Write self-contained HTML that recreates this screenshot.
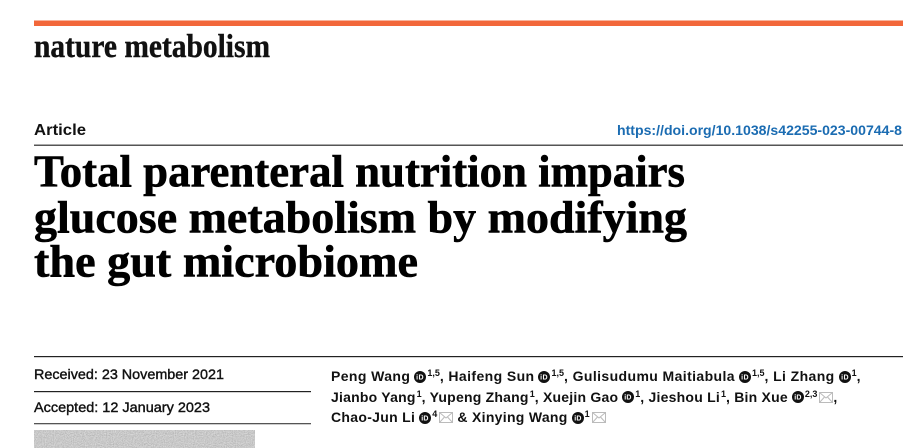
<!DOCTYPE html>
<html>
<head>
<meta charset="utf-8">
<style>
  html,body{margin:0;padding:0;background:#fff;}
  body{width:917px;height:448px;position:relative;overflow:hidden;}
  svg.main{position:absolute;left:0;top:0;}
  .auth{position:absolute;left:331px;font-family:"Liberation Sans",Arial,sans-serif;font-weight:bold;font-size:14px;color:#111;white-space:nowrap;line-height:20px;letter-spacing:0.3px;}
  .id{display:inline-block;width:12px;height:12px;vertical-align:-1.5px;margin-left:4px;}
  .sup{font-size:9px;position:relative;top:-5px;margin-left:1px;letter-spacing:0;}
  .env{display:inline-block;width:14px;height:11px;vertical-align:-1px;margin-left:2px;}
</style>
</head>
<body>
<svg class="main" width="917" height="448" viewBox="0 0 917 448" xmlns="http://www.w3.org/2000/svg">
  <defs>
    <filter id="noise" x="0" y="0" width="100%" height="100%">
      <feTurbulence type="fractalNoise" baseFrequency="0.9" numOctaves="2" seed="3" result="t"/>
      <feColorMatrix type="saturate" values="0" in="t" result="g"/>
      <feComponentTransfer in="g" result="c">
        <feFuncR type="linear" slope="1.2" intercept="0.1"/>
        <feFuncG type="linear" slope="1.2" intercept="0.1"/>
        <feFuncB type="linear" slope="1.2" intercept="0.1"/>
        <feFuncA type="linear" slope="0" intercept="1"/>
      </feComponentTransfer>
    </filter>
  </defs>
  <rect x="34" y="20.5" width="869" height="5.5" fill="#f2673a"/>
  <text x="34" y="57" font-family="Liberation Serif, serif" font-weight="bold" font-size="33" fill="#111" stroke="#111" stroke-width="0.4" textLength="236" lengthAdjust="spacingAndGlyphs">nature metabolism</text>
  <text x="34" y="135" font-family="Liberation Sans, sans-serif" font-weight="bold" font-size="16" fill="#111" textLength="52" lengthAdjust="spacingAndGlyphs">Article</text>
  <text x="617" y="135" font-family="Liberation Sans, sans-serif" font-weight="bold" font-size="14" fill="#1b6cb2" textLength="285" lengthAdjust="spacingAndGlyphs">https://doi.org/10.1038/s42255-023-00744-8</text>
  <rect x="34" y="144.5" width="869" height="1.5" fill="#555"/>
  <g font-family="Liberation Serif, serif" font-weight="bold" font-size="46" fill="#000" stroke="#000" stroke-width="0.6">
    <text x="34" y="186.5" textLength="651" lengthAdjust="spacingAndGlyphs">Total parenteral nutrition impairs</text>
    <text x="34" y="232.5" textLength="653" lengthAdjust="spacingAndGlyphs">glucose metabolism by modifying</text>
    <text x="34" y="276.5" textLength="384" lengthAdjust="spacingAndGlyphs">the gut microbiome</text>
  </g>
  <rect x="34" y="356" width="869" height="1.2" fill="#222"/>
  <text x="34" y="379" font-family="Liberation Sans, sans-serif" font-size="14" fill="#111" stroke="#111" stroke-width="0.4" textLength="190" lengthAdjust="spacingAndGlyphs">Received: 23 November 2021</text>
  <rect x="34" y="391" width="277" height="1.2" fill="#222"/>
  <text x="34" y="412" font-family="Liberation Sans, sans-serif" font-size="14" fill="#111" stroke="#111" stroke-width="0.4" textLength="176" lengthAdjust="spacingAndGlyphs">Accepted: 12 January 2023</text>
  <rect x="34" y="423" width="277" height="1.3" fill="#555"/>
  <rect x="34" y="430" width="221" height="18" fill="#b5b5b5"/>
  <rect x="34" y="430" width="221" height="18" filter="url(#noise)" opacity="0.55"/>
</svg>

<div class="auth" style="top:366px;letter-spacing:0.4px;">Peng Wang<svg class="id" viewBox="0 0 12 12"><circle cx="6" cy="6" r="6" fill="#111"/><text x="6" y="8.6" font-family="Liberation Sans, sans-serif" font-weight="bold" font-size="7" fill="#fff" text-anchor="middle">iD</text></svg><span class="sup">1,5</span>, Haifeng Sun<svg class="id" viewBox="0 0 12 12"><circle cx="6" cy="6" r="6" fill="#111"/><text x="6" y="8.6" font-family="Liberation Sans, sans-serif" font-weight="bold" font-size="7" fill="#fff" text-anchor="middle">iD</text></svg><span class="sup">1,5</span>, Gulisudumu Maitiabula<svg class="id" viewBox="0 0 12 12"><circle cx="6" cy="6" r="6" fill="#111"/><text x="6" y="8.6" font-family="Liberation Sans, sans-serif" font-weight="bold" font-size="7" fill="#fff" text-anchor="middle">iD</text></svg><span class="sup">1,5</span>, Li Zhang<svg class="id" viewBox="0 0 12 12"><circle cx="6" cy="6" r="6" fill="#111"/><text x="6" y="8.6" font-family="Liberation Sans, sans-serif" font-weight="bold" font-size="7" fill="#fff" text-anchor="middle">iD</text></svg><span class="sup">1</span>,</div>
<div class="auth" style="top:386.5px;letter-spacing:0.22px;">Jianbo Yang<span class="sup">1</span>, Yupeng Zhang<span class="sup">1</span>, Xuejin Gao<svg class="id" viewBox="0 0 12 12"><circle cx="6" cy="6" r="6" fill="#111"/><text x="6" y="8.6" font-family="Liberation Sans, sans-serif" font-weight="bold" font-size="7" fill="#fff" text-anchor="middle">iD</text></svg><span class="sup">1</span>, Jieshou Li<span class="sup">1</span>, Bin Xue<svg class="id" viewBox="0 0 12 12"><circle cx="6" cy="6" r="6" fill="#111"/><text x="6" y="8.6" font-family="Liberation Sans, sans-serif" font-weight="bold" font-size="7" fill="#fff" text-anchor="middle">iD</text></svg><span class="sup">2,3</span><svg class="env" viewBox="0 0 14 11"><rect x="0.5" y="0.5" width="13" height="10" fill="none" stroke="#bbb"/><path d="M0.5 0.5 L7 6 L13.5 0.5 M0.5 10.5 L5.5 5 M13.5 10.5 L8.5 5" fill="none" stroke="#bbb"/></svg>,</div>
<div class="auth" style="top:407px;">Chao-Jun Li<svg class="id" viewBox="0 0 12 12"><circle cx="6" cy="6" r="6" fill="#111"/><text x="6" y="8.6" font-family="Liberation Sans, sans-serif" font-weight="bold" font-size="7" fill="#fff" text-anchor="middle">iD</text></svg><span class="sup">4</span><svg class="env" viewBox="0 0 14 11"><rect x="0.5" y="0.5" width="13" height="10" fill="none" stroke="#bbb"/><path d="M0.5 0.5 L7 6 L13.5 0.5 M0.5 10.5 L5.5 5 M13.5 10.5 L8.5 5" fill="none" stroke="#bbb"/></svg> &amp; Xinying Wang<svg class="id" viewBox="0 0 12 12"><circle cx="6" cy="6" r="6" fill="#111"/><text x="6" y="8.6" font-family="Liberation Sans, sans-serif" font-weight="bold" font-size="7" fill="#fff" text-anchor="middle">iD</text></svg><span class="sup">1</span><svg class="env" viewBox="0 0 14 11"><rect x="0.5" y="0.5" width="13" height="10" fill="none" stroke="#bbb"/><path d="M0.5 0.5 L7 6 L13.5 0.5 M0.5 10.5 L5.5 5 M13.5 10.5 L8.5 5" fill="none" stroke="#bbb"/></svg></div>
</body>
</html>
